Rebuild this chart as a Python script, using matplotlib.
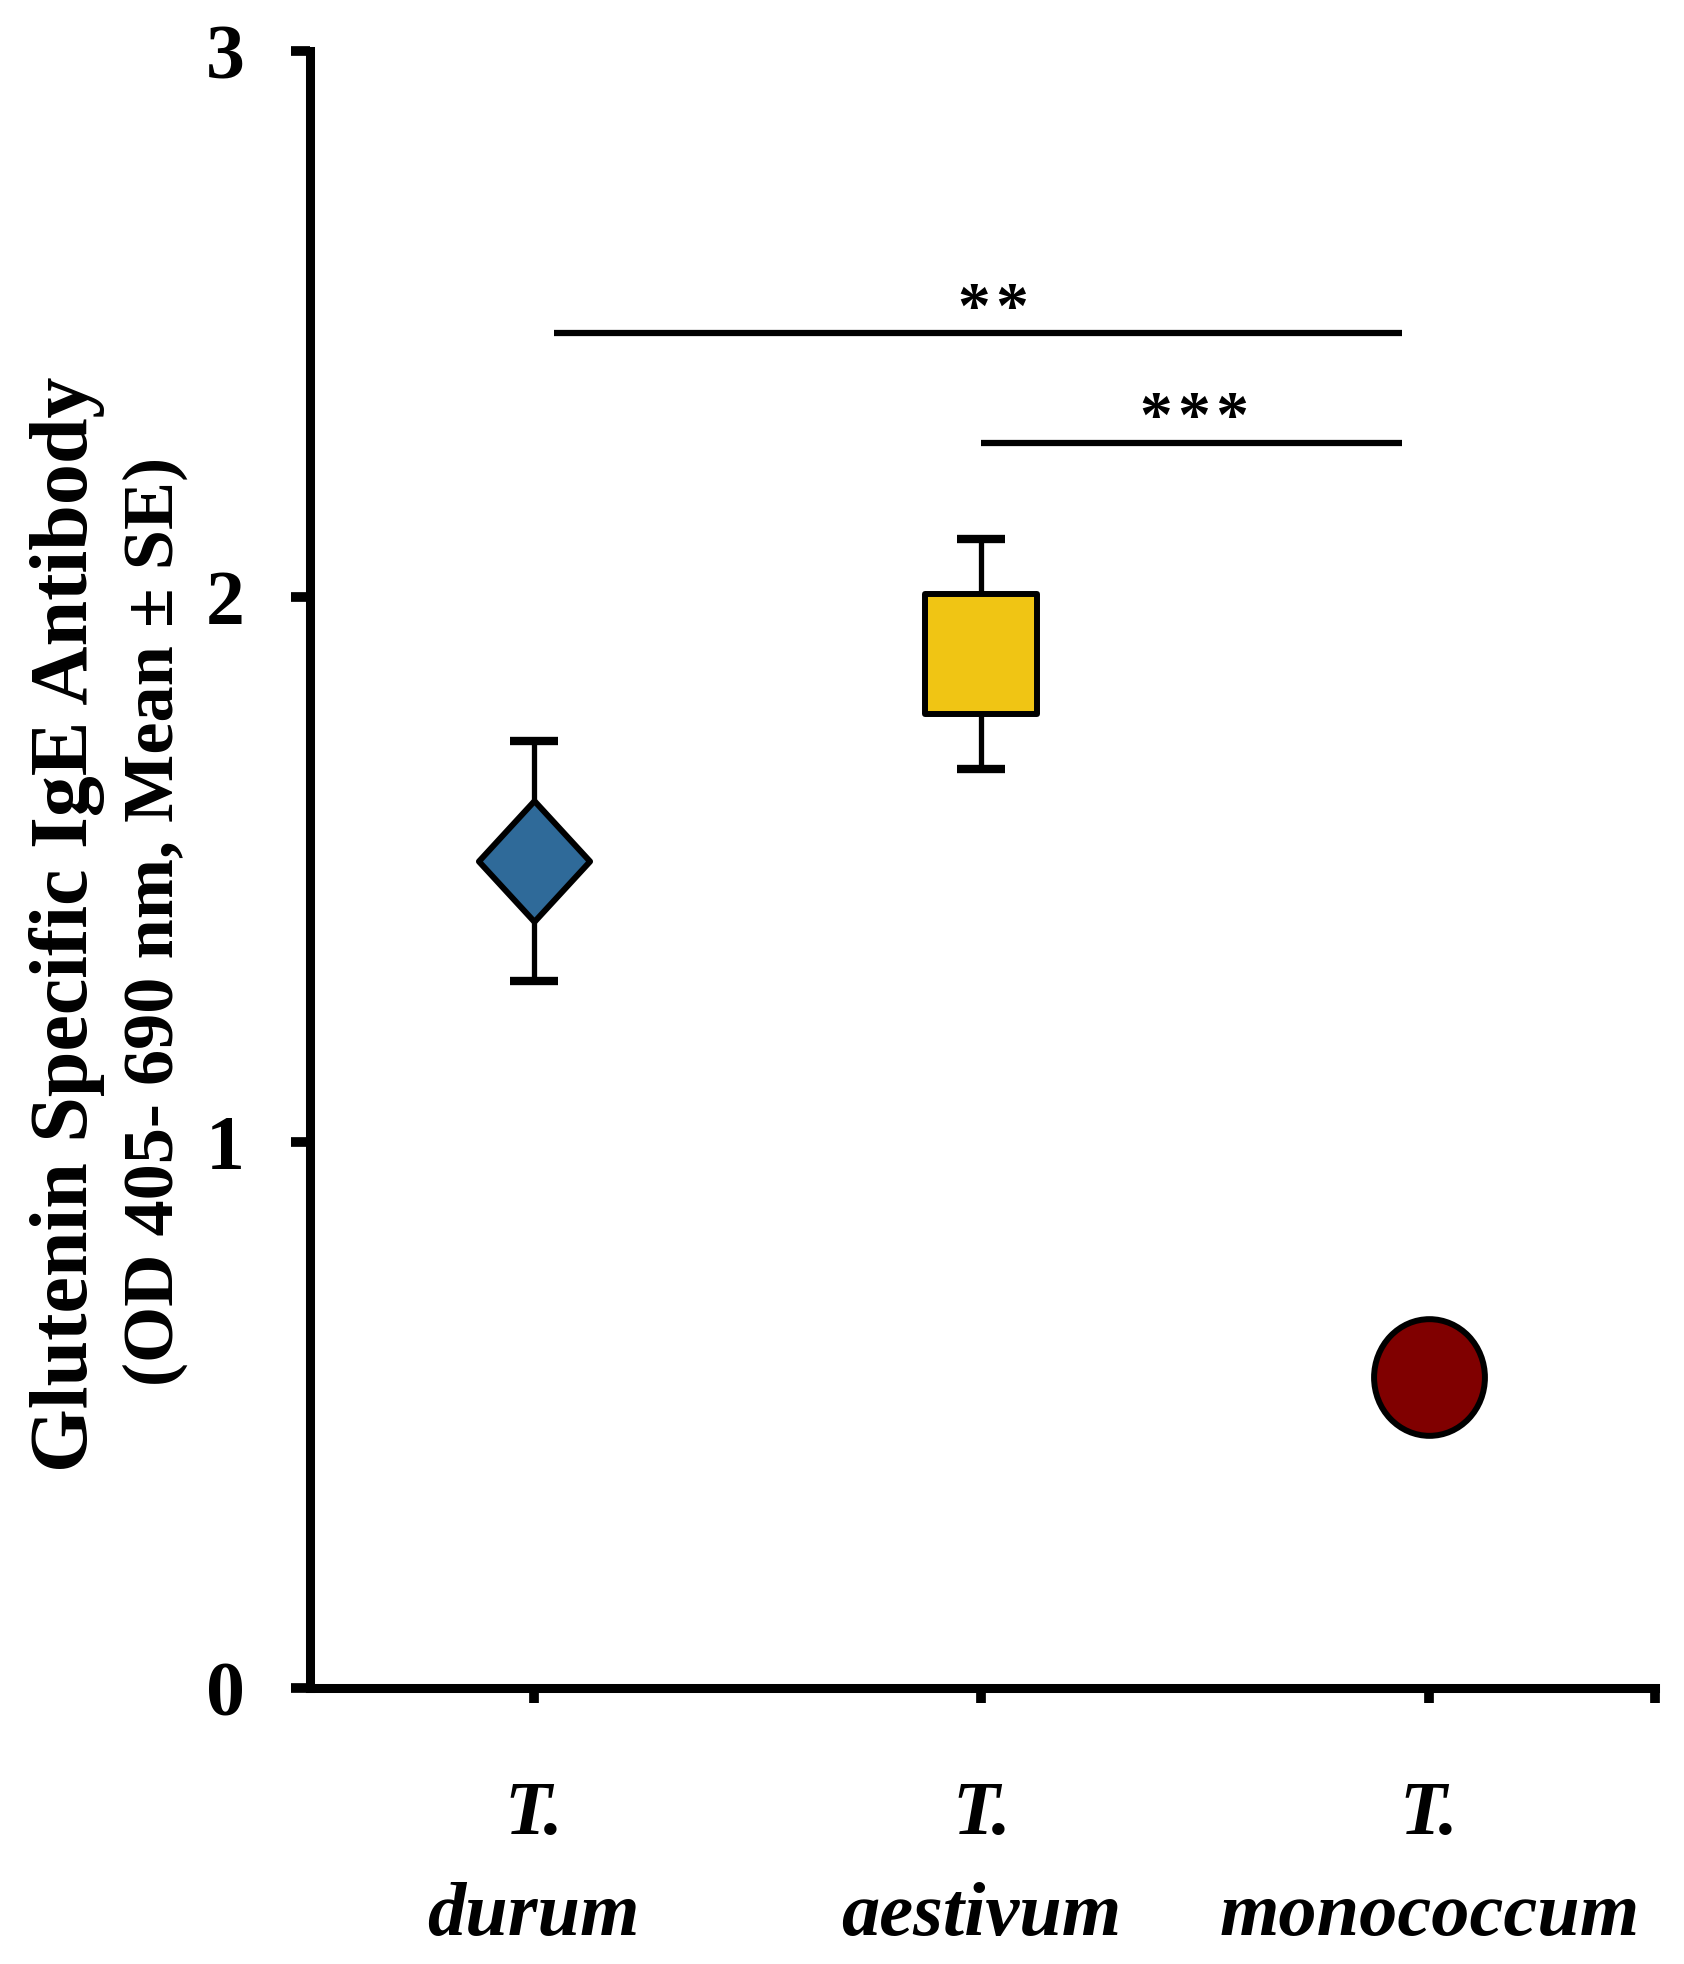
import matplotlib
matplotlib.use("Agg")
import matplotlib.pyplot as plt
from matplotlib.path import Path
from matplotlib.transforms import Affine2D

plt.rcParams['font.family'] = ['Liberation Serif', 'DejaVu Serif']
plt.rcParams['font.weight'] = 'bold'

# data
species = ["T.\ndurum", "T.\naestivum", "T.\nmonococcum"]
means = [1.515, 1.895, 0.57]
errors = [0.22, 0.21, 0.05]
colors = ["#2F6A99", "#F0C514", "#800000"]

# significance brackets: (x start, x end, y, label)
brackets = [
    (0.045, 1.94, 2.483, "**"),
    (1.0, 1.94, 2.282, "***"),
]

y_label_1 = "Glutenin Specific IgE Antibody"
y_label_2 = "(OD 405- 690 nm, Mean \u00b1 SE)"

# marker shapes (slightly taller than wide, as in the figure)
diamond = Path([(0, 1), (0.92, 0), (0, -1), (-0.92, 0), (0, 1)],
               [Path.MOVETO, Path.LINETO, Path.LINETO, Path.LINETO, Path.CLOSEPOLY])
square = Path([(-0.92, -1), (0.92, -1), (0.92, 1), (-0.92, 1), (-0.92, -1)],
              [Path.MOVETO, Path.LINETO, Path.LINETO, Path.LINETO, Path.CLOSEPOLY])
ellipse = Affine2D().scale(0.95, 1.0).transform_path(Path.unit_circle())
markers = [diamond, square, ellipse]
sizes = [87, 87, 84]

fig = plt.figure(figsize=(16.84, 19.64), dpi=100)
ax = fig.add_axes([0.184, 0.1405, 0.799, 0.8335])

xs = list(range(len(species)))
for x, m, e, c, mk, ms in zip(xs, means, errors, colors, markers, sizes):
    ax.errorbar(x, m, yerr=e, fmt='none', ecolor='black', elinewidth=3.8,
                capsize=17, capthick=6, zorder=2)
    ax.plot(x, m, linestyle='none', marker=mk, markersize=ms,
            markerfacecolor=c, markeredgecolor='black', markeredgewidth=4.3,
            zorder=3)

for x0, x1, y, lab in brackets:
    ax.plot([x0, x1], [y, y], color='black', linewidth=4.5,
            solid_capstyle='butt', zorder=2)
    ax.text((x0 + x1) / 2 + (0.035 if lab == "**" else 0.005), y + 0.012,
            "\u200a".join(lab), ha='center', va='baseline', fontsize=47,
            fontweight='bold')

ax.set_xlim(-0.5, 2.505)
ax.set_ylim(0, 3)
ax.set_yticks([0, 1, 2, 3])
ax.set_yticklabels(["0", "1", "2", "3"])
ax.set_xticks(xs)
ax.set_xticklabels(species, fontstyle='italic', fontweight='bold',
                   fontsize=55, linespacing=1.6)
ax.set_xticks([2.505], minor=True)

for side in ['top', 'right']:
    ax.spines[side].set_visible(False)
for side in ['left', 'bottom']:
    ax.spines[side].set_linewidth(6.5)

ax.tick_params(axis='y', direction='out', length=14, width=7,
               labelsize=56, pad=33)
ax.tick_params(axis='x', which='both', direction='out', length=11, width=7,
               pad=56)
for lab in ax.get_yticklabels():
    lab.set_fontweight('bold')

fig.text(0.040, 0.5295, y_label_1, rotation=90, ha='center', va='center',
         fontsize=59, fontweight='bold')
fig.text(0.092, 0.531, y_label_2, rotation=90, ha='center', va='center',
         fontsize=52, fontweight='bold')

fig.savefig("out.png", dpi=100)
